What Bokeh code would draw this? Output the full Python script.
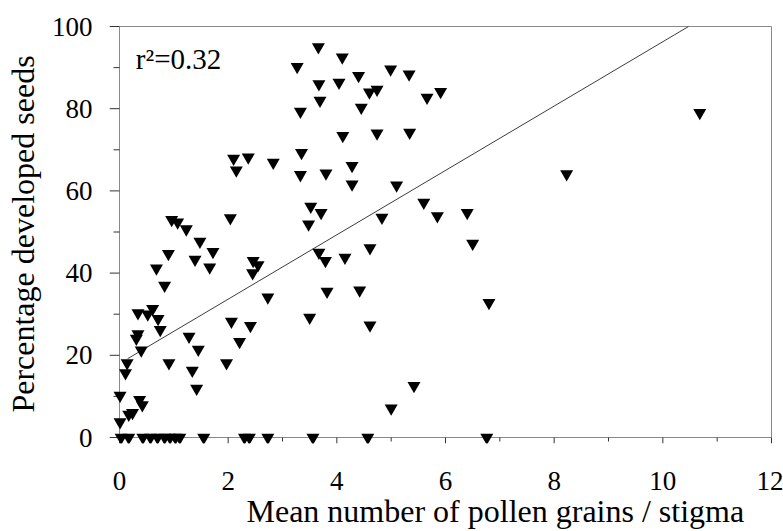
from bokeh.embed import file_html
from bokeh.models import FixedTicker, Label, Range1d, Title
from bokeh.plotting import figure
from bokeh.resources import INLINE

# Mean pollen grains per stigma (x) and percentage of developed seeds (y), one entry per plant
pollen = [
    3.66, 4.10, 3.27, 4.99, 5.33, 4.40, 3.67, 4.04, 4.60, 4.74, 5.66, 5.91,
    3.69, 4.45, 3.33, 4.11, 4.74, 5.34, 3.35, 2.10, 2.37, 2.15, 2.83, 3.33,
    3.80, 4.28, 4.28, 5.10, 3.52, 3.71, 3.48, 5.60, 5.85, 6.40, 4.83, 8.23,
    10.68,
    3.67, 3.79, 4.15, 4.61, 6.50, 3.82, 4.42, 6.80, 3.50, 4.61, 5.42, 5.00,
    0.96, 1.07, 1.23, 1.48, 2.04, 1.72, 0.90, 1.39, 1.66, 0.68, 0.83, 2.46,
    2.55, 2.45, 2.73, 0.34, 0.52, 0.61, 0.71, 0.75, 0.34, 0.31, 0.40, 0.14,
    0.11, 0.91, 1.28, 1.45, 1.34, 1.42, 2.06, 2.41, 2.21, 1.97, 0.01, 0.37,
    0.42, 0.17, 0.24, 0.01,
    0.03, 0.17, 0.43, 0.57, 0.70, 0.83, 0.93, 1.03, 1.11, 1.55, 2.30, 2.39,
    2.73, 3.56, 4.57, 6.76,
]
seeds = [
    95.0, 92.5, 90.2, 89.6, 88.4, 88.0, 86.0, 86.4, 84.0, 84.7, 82.7, 84.1,
    82.0, 80.3, 79.3, 73.4, 74.0, 74.2, 69.3, 67.9, 68.2, 65.0, 66.9, 63.9,
    64.3, 66.1, 61.6, 61.4, 56.2, 54.7, 51.9, 57.2, 53.9, 54.7, 53.5, 64.1,
    79.0,
    45.0, 43.0, 43.8, 46.1, 47.2, 35.5, 35.8, 32.8, 29.2, 27.3, 12.6, 7.1,
    53.0, 52.4, 50.7, 47.7, 53.4, 45.2, 44.7, 43.3, 41.4, 41.2, 37.0, 43.0,
    42.0, 40.0, 34.1, 30.3, 30.0, 31.3, 28.9, 26.2, 25.2, 24.1, 21.2, 18.1,
    15.7, 18.1, 24.6, 21.4, 16.3, 11.9, 28.2, 27.2, 23.3, 18.1, 10.2, 9.2,
    7.9, 5.6, 6.0, 3.8,
    0, 0, 0, 0, 0, 0, 0, 0, 0, 0, 0, 0,
    0, 0, 0, 0,
]

# Least-squares line shown on the chart
FIT_INTERCEPT = 18.0
FIT_SLOPE = 7.83
FIT_X_START = 0.15
R2_TEXT = "r\u00b2=0.32"

X_MAX, Y_MAX = 12, 100
X_TICKS = [0, 2, 4, 6, 8, 10, 12]
X_MINOR = [1, 3, 5, 7, 9, 11]
Y_TICKS = [0, 20, 40, 60, 80, 100]
Y_MINOR = [10, 30, 50, 70, 90]

X_TITLE = "Mean number of pollen grains / stigma"
Y_TITLE = "Percentage developed seeds"

SERIF = "Liberation Serif"
AXIS_GREY = "#8a8a8a"
TICK_COLOR = "#333333"

# Canvas and axis placement in pixels
W, H = 783, 531
AX_LEFT, AX_RIGHT, AX_TOP, AX_BOTTOM = 119, 771, 26, 437
# room around the axes so markers and ticks sitting on them are not cut off
PAD_LEFT, PAD_BOTTOM, PAD_TOP, PAD_RIGHT = 10, 6, 2, 2
X_TICK_LEN, X_MINOR_LEN = 6, 4
Y_TICK_LEN, Y_MINOR_LEN = 10, 6

px_x = (AX_RIGHT - AX_LEFT) / X_MAX
px_y = (AX_BOTTOM - AX_TOP) / Y_MAX

p = figure(
    width=W, height=H,
    output_backend="svg", toolbar_location=None,
    x_range=Range1d(-PAD_LEFT / px_x, X_MAX + PAD_RIGHT / px_x),
    y_range=Range1d(-PAD_BOTTOM / px_y, Y_MAX + PAD_TOP / px_y),
    min_border_left=AX_LEFT - PAD_LEFT,
    min_border_right=W - AX_RIGHT - PAD_RIGHT,
    min_border_top=AX_TOP - PAD_TOP,
    min_border_bottom=H - AX_BOTTOM - PAD_BOTTOM,
)
p.outline_line_color = None
p.xgrid.visible = False
p.ygrid.visible = False
p.background_fill_color = "white"
p.border_fill_color = "white"

# The built-in axes only carry the tick labels and titles; lines and ticks are drawn below
for ax in (p.xaxis[0], p.yaxis[0]):
    ax.axis_line_color = None
    ax.major_tick_line_color = None
    ax.minor_tick_line_color = None
    ax.major_tick_in = ax.major_tick_out = 0
    ax.minor_tick_in = ax.minor_tick_out = 0
    ax.major_label_text_font = SERIF
    ax.major_label_text_font_size = "27px"
    ax.major_label_text_color = "black"
    ax.axis_label_text_font = SERIF
    ax.axis_label_text_font_style = "normal"
    ax.axis_label_text_color = "black"

xa = p.xaxis[0]
xa.ticker = FixedTicker(ticks=X_TICKS)
xa.major_label_standoff = 28

ya = p.yaxis[0]
ya.ticker = FixedTicker(ticks=Y_TICKS)
ya.major_label_standoff = 17
ya.axis_label = Y_TITLE
ya.axis_label_text_font_size = "32px"
ya.axis_label_standoff = 8

# x-axis title sits under the tick labels, a little right of centre
p.add_layout(Title(
    text=X_TITLE, text_font=SERIF, text_font_size="32px", text_font_style="normal",
    text_color="black", align="left", offset=137, vertical_align="top", standoff=1,
), "below")

# axis lines on the left and bottom, plain frame lines on the top and right
p.line([0, X_MAX], [0, 0], line_color=AXIS_GREY, line_width=1)
p.line([0, 0], [0, Y_MAX], line_color=AXIS_GREY, line_width=1)
p.line([0, X_MAX, X_MAX], [Y_MAX, Y_MAX, 0], line_color=AXIS_GREY, line_width=1)

# outward ticks
p.segment(X_TICKS, [0] * len(X_TICKS), X_TICKS, [-X_TICK_LEN / px_y] * len(X_TICKS),
          line_color=TICK_COLOR, line_width=1)
p.segment(X_MINOR, [0] * len(X_MINOR), X_MINOR, [-X_MINOR_LEN / px_y] * len(X_MINOR),
          line_color=TICK_COLOR, line_width=1)
p.segment([0] * len(Y_TICKS), Y_TICKS, [-Y_TICK_LEN / px_x] * len(Y_TICKS), Y_TICKS,
          line_color=TICK_COLOR, line_width=1)
p.segment([0] * len(Y_MINOR), Y_MINOR, [-Y_MINOR_LEN / px_x] * len(Y_MINOR), Y_MINOR,
          line_color=TICK_COLOR, line_width=1)

# regression line, stopped where it reaches the top of the frame
fit_x_end = (Y_MAX - FIT_INTERCEPT) / FIT_SLOPE
p.line(
    [FIT_X_START, fit_x_end],
    [FIT_INTERCEPT + FIT_SLOPE * FIT_X_START, FIT_INTERCEPT + FIT_SLOPE * fit_x_end],
    line_color="#3c3c3c", line_width=1,
)

p.scatter(pollen, seeds, marker="inverted_triangle", size=13,
          fill_color="black", line_color=None)

p.add_layout(Label(
    x=0.3, y=92.2, text=R2_TEXT, text_font=SERIF, text_font_size="29px",
    text_color="black", text_baseline="alphabetic", text_align="left",
))

open("out.html", "w").write(file_html(p, INLINE))
